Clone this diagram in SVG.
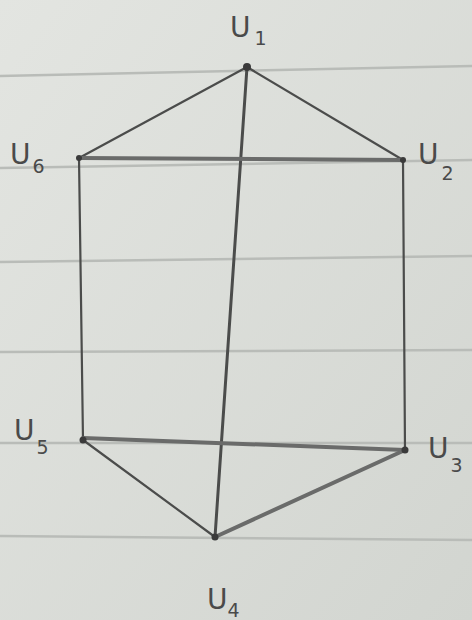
<svg xmlns="http://www.w3.org/2000/svg" width="472" height="620" viewBox="0 0 472 620">
<defs>
<linearGradient id="bg" x1="0" y1="0" x2="1" y2="1">
<stop offset="0" stop-color="#e3e5e1"/>
<stop offset="1" stop-color="#d2d5d0"/>
</linearGradient>
<style>
.rule{stroke:#b9bcb8;stroke-width:2.5;fill:none}
.edge{stroke:#4b4c4b;stroke-width:2.2;stroke-linecap:round;fill:none}
.thick{stroke:#6a6b6a;stroke-width:4}
.dot{fill:#3a3a3a}
.lbl{font-family:"DejaVu Sans",sans-serif;font-size:28px;fill:#4a4a4a}
.sub{font-size:19px}
</style>
</defs>
<rect width="472" height="620" fill="url(#bg)"/>
<g id="paper">
<line class="rule" x1="0" y1="76" x2="472" y2="66"/>
<line class="rule" x1="0" y1="168" x2="472" y2="160"/>
<line class="rule" x1="0" y1="262" x2="472" y2="256"/>
<line class="rule" x1="0" y1="352" x2="472" y2="350"/>
<line class="rule" x1="0" y1="443" x2="472" y2="443"/>
<line class="rule" x1="0" y1="536" x2="472" y2="540"/>
</g>
<g id="connectors">
<line class="edge" x1="247" y1="67" x2="79" y2="158"/>
<line class="edge" x1="247" y1="67" x2="403" y2="160"/>
<line class="edge" x1="247" y1="67" x2="215" y2="537" style="stroke-width:3"/>
<line class="edge thick" x1="79" y1="158" x2="403" y2="160"/>
<line class="edge" x1="79" y1="158" x2="83" y2="440"/>
<line class="edge" x1="403" y1="160" x2="405" y2="450"/>
<line class="edge thick" x1="83" y1="438" x2="405" y2="450"/>
<line class="edge" x1="83" y1="440" x2="215" y2="537"/>
<line class="edge thick" x1="405" y1="450" x2="215" y2="537"/>
</g>
<g id="u1"><circle class="dot" cx="247" cy="67" r="4"/><text class="lbl" x="230" y="37">U<tspan class="sub" dx="4" dy="8">1</tspan></text></g>
<g id="u2"><circle class="dot" cx="403" cy="160" r="3"/><text class="lbl" x="418" y="164">U<tspan class="sub" dx="3" dy="16">2</tspan></text></g>
<g id="u3"><circle class="dot" cx="405" cy="450" r="3.5"/><text class="lbl" x="428" y="458">U<tspan class="sub" dx="2" dy="14">3</tspan></text></g>
<g id="u4"><circle class="dot" cx="215" cy="537" r="3.5"/><text class="lbl" x="207" y="609">U<tspan class="sub" dx="0" dy="8">4</tspan></text></g>
<g id="u5"><circle class="dot" cx="83" cy="440" r="3.5"/><text class="lbl" x="14" y="440">U<tspan class="sub" dx="2" dy="14">5</tspan></text></g>
<g id="u6"><circle class="dot" cx="79" cy="158" r="3"/><text class="lbl" x="10" y="164">U<tspan class="sub" dx="2" dy="9">6</tspan></text></g>
</svg>
